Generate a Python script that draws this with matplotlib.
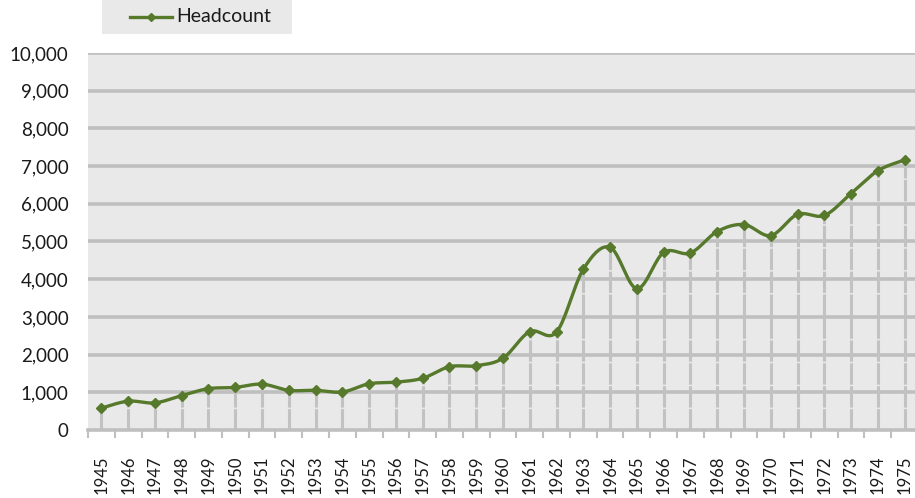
import matplotlib
matplotlib.use("Agg")
import matplotlib.pyplot as plt
import numpy as np
from matplotlib.patches import Rectangle
from matplotlib.ticker import FuncFormatter, FixedLocator

# data
years = list(range(1945, 1976))
headcount = [580, 765, 720, 914, 1097, 1130, 1217, 1052, 1052, 1008,
             1227, 1269, 1373, 1679, 1705, 1905, 2610, 2600, 4265, 4845,
             3750, 4710, 4695, 5265, 5450, 5158, 5720, 5690, 6273, 6877, 7163]
series_name = "Headcount"
y_ticks = list(range(0, 10001, 1000))

GREEN = "#56792c"
GRID = "#bfbfbf"
BG = "#e9e9e9"

plt.rcParams["font.family"] = ["Lato", "DejaVu Sans"]


def smooth(x, y, steps=20):
    # Excel-like smoothed line: Catmull-Rom segments as cubic Beziers
    x = np.asarray(x, float)
    y = np.asarray(y, float)
    px = np.concatenate([[x[0]], x, [x[-1]]])
    py = np.concatenate([[y[0]], y, [y[-1]]])
    t = np.linspace(0, 1, steps)[:, None]
    xs, ys = [], []
    for i in range(1, len(px) - 2):
        p0 = np.array([px[i], py[i]])
        p3 = np.array([px[i + 1], py[i + 1]])
        p1 = p0 + (np.array([px[i + 1], py[i + 1]]) - np.array([px[i - 1], py[i - 1]])) / 6
        p2 = p3 - (np.array([px[i + 2], py[i + 2]]) - np.array([px[i], py[i]])) / 6
        b = ((1 - t) ** 3) * p0 + 3 * ((1 - t) ** 2) * t * p1 + 3 * (1 - t) * t ** 2 * p2 + t ** 3 * p3
        xs.append(b[:, 0])
        ys.append(b[:, 1])
    return np.concatenate(xs), np.concatenate(ys)


fig = plt.figure(figsize=(9.15, 4.98), dpi=100)
W, H = 915, 498
ax = fig.add_axes([88 / W, (H - 430) / H, (918 - 88) / W, (430 - 53) / H])
ax.set_facecolor(BG)

x = np.arange(len(years))
ax.set_xlim(-0.5, len(years) - 0.5)
ax.set_ylim(0, 10000)

for v in y_ticks[1:]:
    ax.axhline(v, color=GRID, lw=2.6, zorder=1)

# drop lines from each point to the axis
ax.vlines(x, 0, headcount, colors="#c2c2c2", lw=2.2, linestyles=(0, (7, 0.5)), zorder=2)

sx, sy = smooth(x, headcount)
ax.plot(sx, sy, color=GREEN, lw=2.4, zorder=4, solid_capstyle="round")
ax.plot(x, headcount, ls="none", marker="D", ms=5.5, color=GREEN, zorder=5)

ax.yaxis.set_major_locator(FixedLocator(y_ticks))
ax.yaxis.set_major_formatter(FuncFormatter(lambda v, p: f"{int(v):,}"))
ax.tick_params(axis="y", length=0, pad=14, labelsize=13.5, labelcolor="#1a1a1a")

ax.set_xticks(np.arange(-0.5, len(years), 1.0))
ax.set_xticklabels([])
ax.set_xticks(x, minor=True)
ax.set_xticklabels([str(yr) for yr in years], minor=True, rotation=90,
                   fontsize=12, color="#1a1a1a")
ax.tick_params(axis="x", which="major", length=6, width=1.5, color=GRID, direction="out")
ax.tick_params(axis="x", which="minor", length=0, pad=18)

for s in ("top", "right", "left"):
    ax.spines[s].set_visible(False)
ax.spines["bottom"].set_color(GRID)
ax.spines["bottom"].set_linewidth(2.6)

# legend box drawn by hand, top-left above the plot
fig.patches.append(Rectangle((102 / W, 1 - 34 / H), 190 / W, 34 / H,
                             transform=fig.transFigure, facecolor=BG,
                             edgecolor="none", zorder=0))
fig.add_artist(plt.Line2D([130 / W, 172 / W], [1 - 17 / H, 1 - 17 / H],
                          transform=fig.transFigure, color=GREEN, lw=2.4))
fig.add_artist(plt.Line2D([151 / W], [1 - 17 / H], transform=fig.transFigure,
                          color=GREEN, marker="D", ms=4.5, ls="none"))
fig.text(176 / W, 1 - 17 / H, series_name, fontsize=14, va="center", ha="left",
         color="#1a1a1a")

fig.savefig("out.png", dpi=100)
